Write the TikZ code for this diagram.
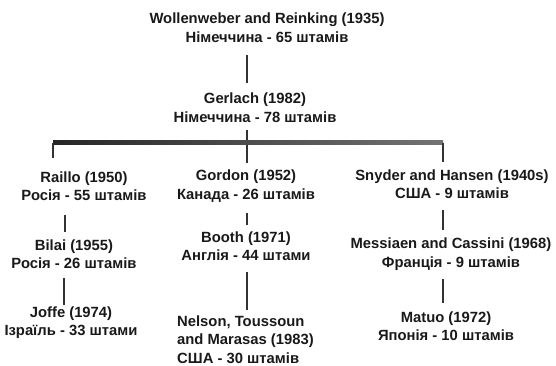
\documentclass[tikz,border=0pt]{standalone}
\usepackage{fontspec}
\setmainfont{Liberation Sans}
\begin{document}
\begin{tikzpicture}[x=1pt,y=-1pt,
  lbl/.style={font=\bfseries\fontsize{14.8}{18.5}\selectfont, text=black!90, align=center, inner sep=0pt},
  conn/.style={draw=black!80, line width=1.2pt}]
\useasboundingbox (0,0) rectangle (556,365);
\node[lbl] (w) at (267,27.5) {Wollenweber and Reinking (1935)\\Німеччина - 65 штамів};
\node[lbl] (g) at (255,107.5) {Gerlach (1982)\\Німеччина - 78 штамів};
\node[lbl] (r) at (84,186) {Raillo (1950)\\Росія - 55 штамів};
\node[lbl] (b) at (74,254) {Bilai (1955)\\Росія - 26 штамів};
\node[lbl] (j) at (71,322.5) {Joffe (1974)\\Ізраїль - 33 штами};
\node[lbl] (go) at (246,186) {Gordon (1952)\\Канада - 26 штамів};
\node[lbl] (bo) at (246,246) {Booth (1971)\\Англія - 44 штами};
\node[lbl, align=left, anchor=west] (n) at (177,339.5) {Nelson, Toussoun\\and Marasas (1983)\\США - 30 штамів};
\node[lbl] (s) at (452,184) {Snyder and Hansen (1940s)\\США - 9 штамів};
\node[lbl] (m) at (451,254) {Messiaen and Cassini (1968)\\Франція - 9 штамів};
\node[lbl] (mt) at (446,326) {Matuo (1972)\\Японія - 10 штамів};
% connector end points
\coordinate (w1) at (247,55); \coordinate (w2) at (247,83);
\coordinate (g1) at (247,130); \coordinate (bar) at (247,142.5);
\coordinate (barL) at (53,142.5); \coordinate (barR) at (443,142.5);
\coordinate (rT) at (53,158);
\coordinate (goT) at (247,163);
\coordinate (sT) at (443,162);
\coordinate (r1) at (65,215); \coordinate (r2) at (65,232);
\coordinate (b1) at (64,278); \coordinate (b2) at (64,305);
\coordinate (go1) at (247,213); \coordinate (go2) at (247,225);
\coordinate (bo1) at (247,272); \coordinate (bo2) at (247,310);
\coordinate (s1) at (443,210); \coordinate (s2) at (443,230);
\coordinate (m1) at (443,279); \coordinate (m2) at (443,303);
\draw[conn] (w1) -- (w2);
\draw[conn] (g1) -- (goT);
\shade[left color=black!85, right color=black!55] ([yshift=-1.6pt]barL) rectangle ([yshift=1.6pt]barR);
\draw[conn] (barL) -- (rT);
\draw[conn] (barR) -- (sT);
\draw[conn] (r1) -- (r2);
\draw[conn] (b1) -- (b2);
\draw[conn] (go1) -- (go2);
\draw[conn] (bo1) -- (bo2);
\draw[conn] (s1) -- (s2);
\draw[conn] (m1) -- (m2);
\end{tikzpicture}
\end{document}
